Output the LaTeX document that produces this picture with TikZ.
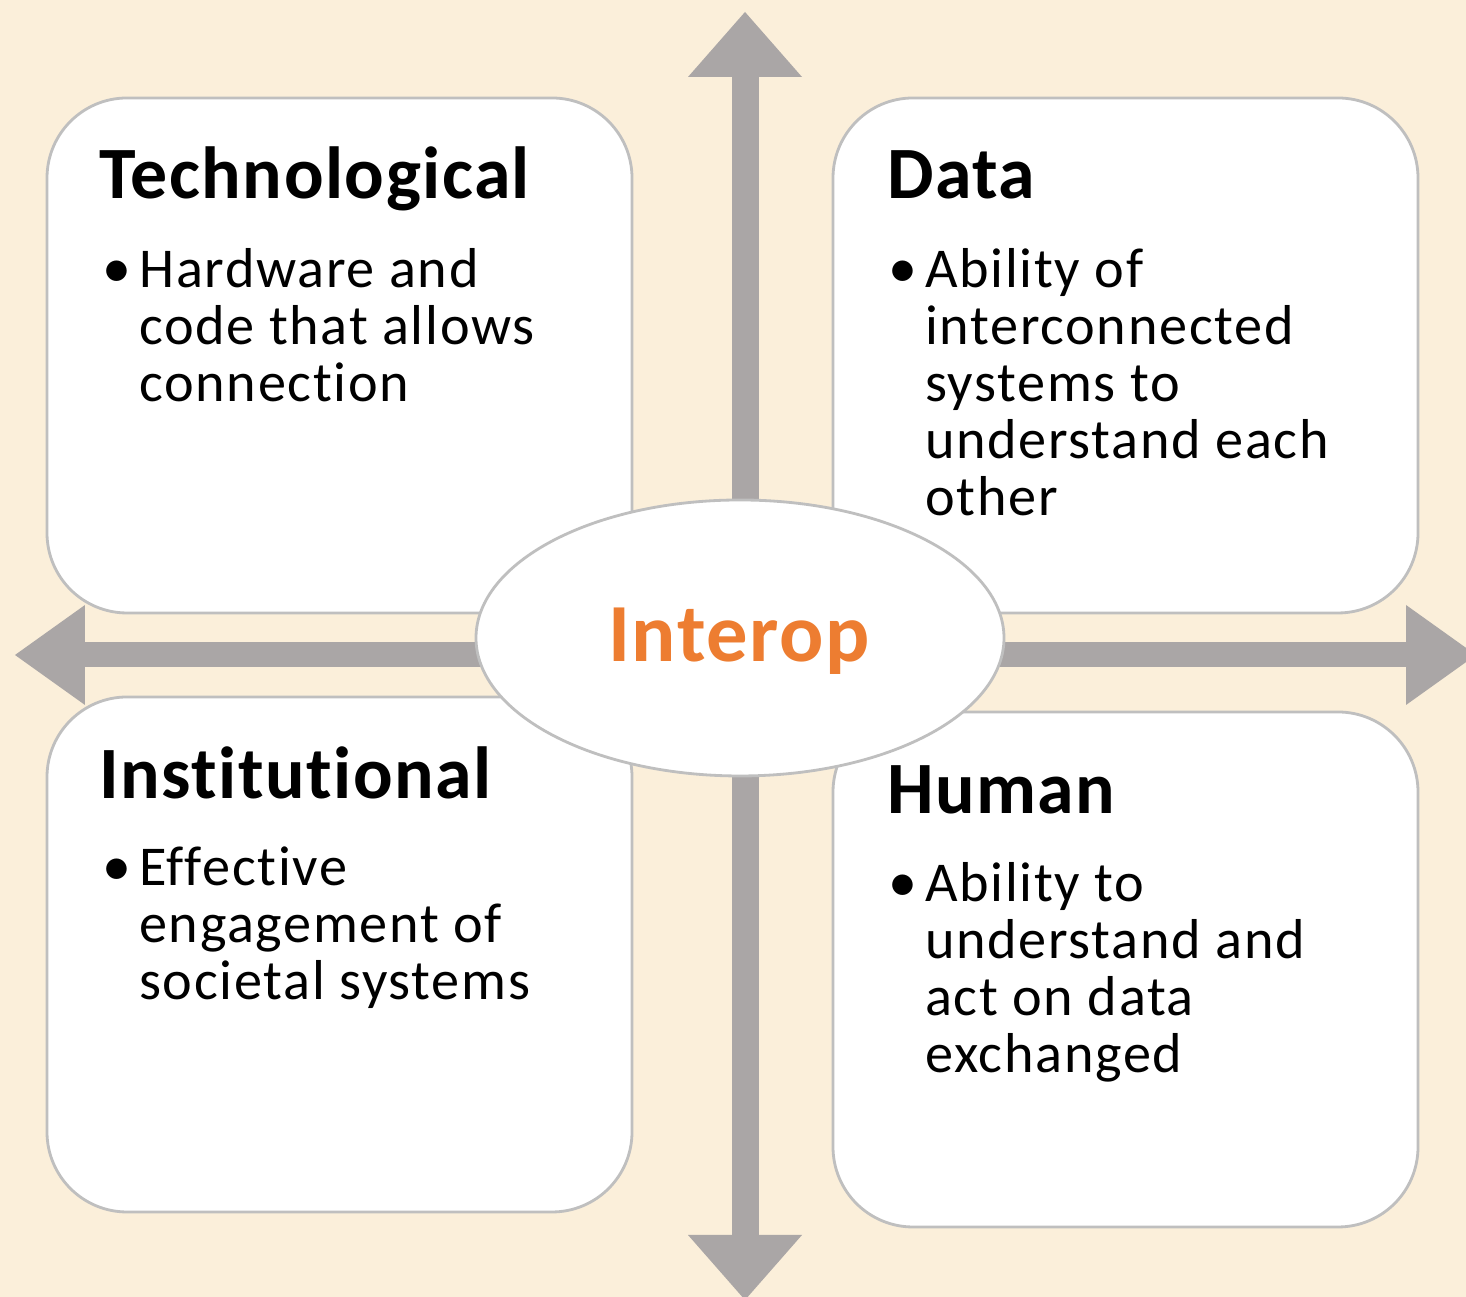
\documentclass[tikz,border=0pt]{standalone}
\usepackage{fontspec}
\setmainfont{Carlito}[Ligatures=NoCommon]
\newfontfamily\bodyfont{Carlito}[Ligatures=NoCommon,LetterSpace=3]
\newfontfamily\headfont{Carlito}[Ligatures=NoCommon,LetterSpace=2]
\usetikzlibrary{arrows.meta,positioning,shapes.geometric}
\definecolor{cream}{RGB}{251,239,218}
\definecolor{axisgray}{RGB}{170,166,166}
\definecolor{edgegray}{RGB}{191,191,191}
\definecolor{interorange}{RGB}{237,125,49}
\tikzset{
  quad/.style={draw=edgegray,line width=0.8pt,fill=white,rounded corners=0.8cm,
    minimum width=5.85cm,minimum height=5.15cm,inner sep=0pt},
  heading/.style={anchor=base west,inner sep=0pt,font=\headfont\fontsize{21}{24}\selectfont\bfseries},
  dot/.style={anchor=base west,inner sep=0pt,font=\fontsize{16.5}{16}\selectfont},
  point/.style={anchor=base west,inner sep=0pt,font=\bodyfont\fontsize{16}{16.2}\selectfont},
  vaxis/.style={draw=axisgray,line width=0.27cm,
    {Triangle[length=0.65cm,width=1.14cm,line width=0pt]}-{Triangle[length=0.65cm,width=1.14cm,line width=0pt]}},
  haxis/.style={draw=axisgray,line width=0.25cm,
    {Triangle[length=0.70cm,width=1.0cm,line width=0pt]}-{Triangle[length=0.70cm,width=1.0cm,line width=0pt]}}
}
\newcommand{\lines}[1]{\begin{tabular}[t]{@{}l@{}}#1\end{tabular}}
\begin{document}
\begin{tikzpicture}
 \fill[cream] (0,0) rectangle (14.66,12.97);
 \useasboundingbox (0,0) rectangle (14.66,12.97);
 % the two axes
 \coordinate (up) at (7.45,12.85);
 \coordinate (down) at (7.45,-0.03);
 \coordinate (left) at (0.15,6.42);
 \coordinate (right) at (14.76,6.42);
 \draw[vaxis] (down) -- (up);
 \draw[haxis] (left) -- (right);
 % the four quadrants
 \node[quad] (tech) at (3.395,9.415) {};
 \node[quad] (data) at (11.255,9.415) {};
 \node[quad] (inst) at (3.395,3.425) {};
 \node[quad] (human) at (11.255,3.275) {};
 \node[heading] (techtitle) at ([shift={(0.53,-1.02)}]tech.north west) {Technological};
 \node[dot] (techdot) at ([shift={(0.56,-1.91)}]tech.north west) {\textbullet};
 \node[point] (techtext) at ([shift={(0.93,-1.91)}]tech.north west) {\lines{Hardware and\\code that allows\\connection}};
 \node[heading] (datatitle) at ([shift={(0.55,-1.02)}]data.north west) {Data};
 \node[dot] (datadot) at ([shift={(0.56,-1.91)}]data.north west) {\textbullet};
 \node[point] (datatext) at ([shift={(0.93,-1.91)}]data.north west) {\lines{Ability of\\interconnected\\systems to\\understand each\\other}};
 \node[heading] (insttitle) at ([shift={(0.53,-1.03)}]inst.north west) {Institutional};
 \node[dot] (instdot) at ([shift={(0.56,-1.90)}]inst.north west) {\textbullet};
 \node[point] (insttext) at ([shift={(0.93,-1.90)}]inst.north west) {\lines{Effective\\engagement of\\societal systems}};
 \node[heading] (humantitle) at ([shift={(0.55,-1.03)}]human.north west) {Human};
 \node[dot] (humandot) at ([shift={(0.56,-1.91)}]human.north west) {\textbullet};
 \node[point] (humantext) at ([shift={(0.93,-1.91)}]human.north west) {\lines{Ability to\\understand and\\act on data\\exchanged}};
 % centre
 \node[ellipse,draw=edgegray,line width=0.8pt,fill=white,minimum width=5.28cm,
   minimum height=2.76cm,inner sep=0pt] (hub) at (7.40,6.59) {};
 \node[anchor=base,inner sep=0pt,text=interorange,font=\headfont\fontsize{23.5}{26}\selectfont\bfseries]
   (hubtext) at ([shift={(-0.01,-0.24)}]hub.center) {Interop};
\end{tikzpicture}
\end{document}
